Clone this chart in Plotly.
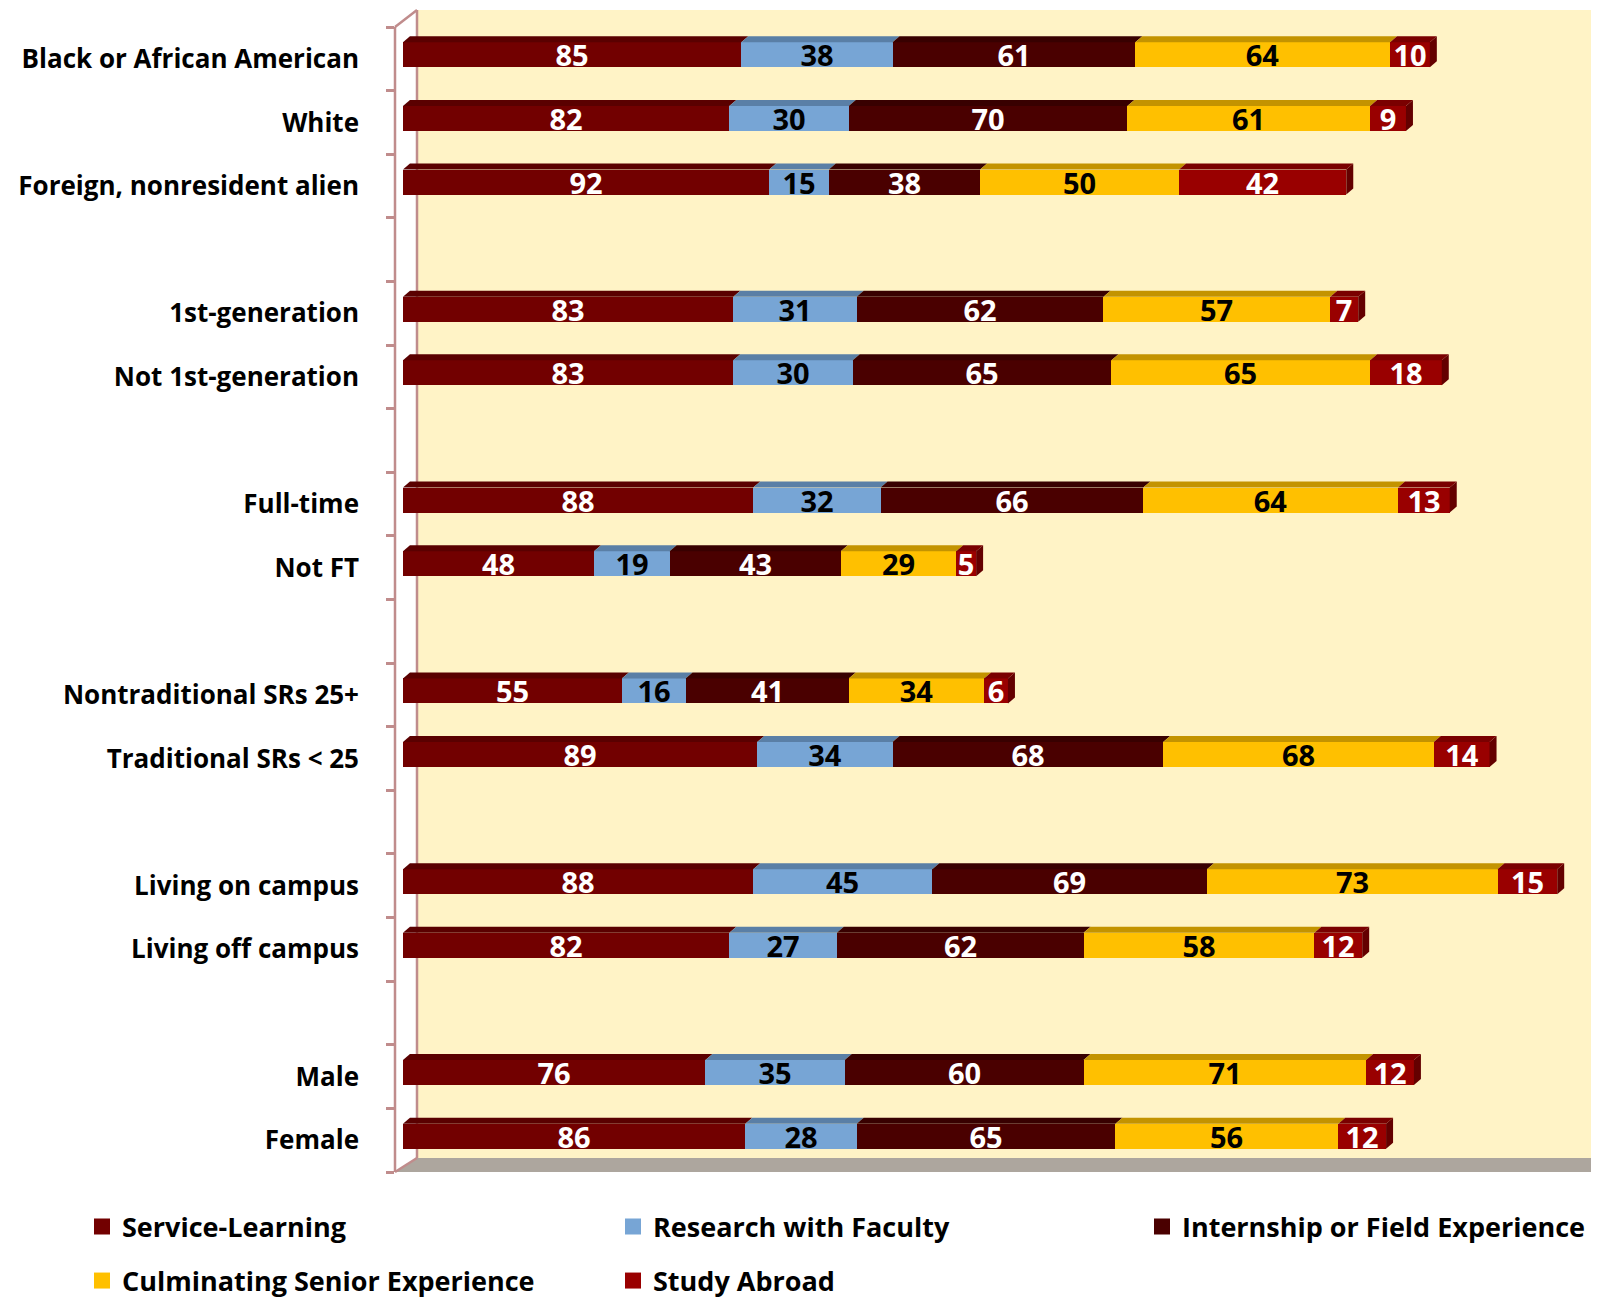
import plotly.graph_objects as go

# ---------------- data ----------------
categories = [
    "Black or African American", "White", "Foreign, nonresident alien", "",
    "1st-generation", "Not 1st-generation", "",
    "Full-time", "Not FT", "",
    "Nontraditional SRs 25+", "Traditional SRs < 25", "",
    "Living on campus", "Living off campus", "",
    "Male", "Female",
]
service_learning = [85, 82, 92, None, 83, 83, None, 88, 48, None, 55, 89, None, 88, 82, None, 76, 86]
research_faculty = [38, 30, 15, None, 31, 30, None, 32, 19, None, 16, 34, None, 45, 27, None, 35, 28]
internship_field = [61, 70, 38, None, 62, 65, None, 66, 43, None, 41, 68, None, 69, 62, None, 60, 65]
culminating_senior = [64, 61, 50, None, 57, 65, None, 64, 29, None, 34, 68, None, 73, 58, None, 71, 56]
study_abroad = [10, 9, 42, None, 7, 18, None, 13, 5, None, 6, 14, None, 15, 12, None, 12, 12]

series_names = ["Service-Learning", "Research with Faculty", "Internship or Field Experience",
                "Culminating Senior Experience", "Study Abroad"]
series_values = [service_learning, research_faculty, internship_field, culminating_senior, study_abroad]

# ---------------- style ----------------
front_colors = ["#720000", "#77A5D5", "#4A0000", "#FFC000", "#990000"]
top_colors = ["#5A0000", "#5A7FA6", "#380000", "#C39300", "#7A0000"]
side_color = "#640000"
text_colors = ["#FFFFFF", "#000000", "#FFFFFF", "#000000", "#FFFFFF"]
CREAM = "#FFF3C6"
WALL = "#C08C8C"
FLOOR = "#ADA69E"
FONT = "Open Sans"

# page has an 8px body margin: figure is placed at (8, 8) in the window
PAGE_OFF = 8
W, H = 1599 - PAGE_OFF, 1298 - PAGE_OFF
# plot area in window pixels
L_PX, R_PX, T_PX, B_PX = 395, 1599, 10, 1172
X_RANGE = [-2.0, 300.5]
n = len(categories)
slot_px = (B_PX - 27) / n
Y_TOP = -0.5 - (27 - T_PX) / slot_px
Y_RANGE = [n - 0.5, Y_TOP]

ppu_x = (R_PX - L_PX) / (X_RANGE[1] - X_RANGE[0])
ppu_y = slot_px
bar_w = 25 / ppu_y
y_shift = -4 / ppu_y
dx = 7 / ppu_x
dy = 6 / ppu_y

# legend placement (window pixels: legend-left x, row center y)
legend_pos = [(82, 1227), (613, 1227), (1142, 1227), (82, 1281), (613, 1281)]


def px_x(p):
    return (p - L_PX) / (R_PX - L_PX)


def px_y(p):
    return (B_PX - p) / (B_PX - T_PX)


ypos = [i + y_shift for i in range(n)]

fig = go.Figure()
for name, vals, fc, tc in zip(series_names, series_values, front_colors, text_colors):
    fig.add_trace(go.Bar(
        x=vals, y=ypos, orientation="h", name=name, width=bar_w,
        marker=dict(color=fc, line=dict(width=0)),
        text=vals, texttemplate="%{text}", textposition="inside",
        insidetextanchor="middle", textangle=0, constraintext="none",
        textfont=dict(family=FONT, size=29, color=tc, weight="bold"),
        hoverinfo="x+name", showlegend=False,
    ))

# legend entries (one legend per entry so they sit on Excel's grid)
legend_layouts = {}
for k, (name, fc) in enumerate(zip(series_names, front_colors)):
    lname = "legend" if k == 0 else f"legend{k + 1}"
    fig.add_trace(go.Scatter(
        x=[None], y=[None], mode="markers", name=name,
        marker=dict(symbol="square", size=16, color=fc, line=dict(width=0)),
        showlegend=True, legend=lname, hoverinfo="skip",
    ))
    lx, ly = legend_pos[k]
    legend_layouts[lname] = dict(
        orientation="h", x=px_x(lx), xanchor="left", y=px_y(ly), yanchor="middle",
        bgcolor="rgba(0,0,0,0)", itemsizing="trace",
        font=dict(family=FONT, size=27, color="black", weight="bold"),
    )

shapes = []
# back wall (cream)
shapes.append(dict(type="rect", xref="paper", yref="paper", x0=px_x(417), x1=1.0,
                   y0=px_y(1158), y1=1.0, fillcolor=CREAM, line=dict(width=0), layer="below"))
# floor
shapes.append(dict(type="path", xref="paper", yref="paper",
                   path=f"M {px_x(395)},{px_y(1172)} L {px_x(417)},{px_y(1158)} L {px_x(1599)},{px_y(1158)} "
                        f"L {px_x(1593)},{px_y(1172)} Z",
                   fillcolor=FLOOR, line=dict(width=0), layer="below"))
# wall lines
for (a, b, c, d) in [(395, 27, 395, 1172), (395, 27, 417, 10), (417, 10, 417, 1158), (395, 1172, 417, 1158)]:
    shapes.append(dict(type="line", xref="paper", yref="paper", x0=px_x(a), y0=px_y(b),
                       x1=px_x(c), y1=px_y(d), line=dict(color=WALL, width=2.5), layer="below"))

# 3D top and side faces computed from the data
for i in range(n):
    if service_learning[i] is None:
        continue
    yc = ypos[i]
    yt = yc - bar_w / 2
    yb = yc + bar_w / 2
    base = 0
    for vals, tcol in zip(series_values, top_colors):
        v = vals[i]
        x0, x1 = base, base + v
        shapes.append(dict(type="path", xref="x", yref="y",
                           path=f"M {x0},{yt} L {x1},{yt} L {x1 + dx},{yt - dy} L {x0 + dx},{yt - dy} Z",
                           fillcolor=tcol, line=dict(width=0)))
        base = x1
    shapes.append(dict(type="path", xref="x", yref="y",
                       path=f"M {base},{yt} L {base + dx},{yt - dy} L {base + dx},{yb - dy} L {base},{yb} Z",
                       fillcolor=side_color, line=dict(width=0)))

tickvals = [i for i, c in enumerate(categories) if c]
ticktext = [c for c in categories if c]

fig.update_layout(
    width=W, height=H,
    barmode="stack",
    bargap=0,
    paper_bgcolor="white",
    plot_bgcolor="rgba(0,0,0,0)",
    margin=dict(l=L_PX - PAGE_OFF, r=(1599 - PAGE_OFF) - (R_PX - PAGE_OFF), t=T_PX - PAGE_OFF,
                b=H - (B_PX - PAGE_OFF), pad=0, autoexpand=False),
    font=dict(family=FONT, size=27, color="black"),
    shapes=shapes,
    uniformtext=dict(minsize=22, mode="show"),
    xaxis=dict(range=X_RANGE, visible=False, showgrid=False, zeroline=False, fixedrange=True),
    yaxis=dict(range=Y_RANGE, tickmode="array", tickvals=tickvals, ticktext=ticktext,
               ticks="", showline=False, showgrid=False, zeroline=False,
               tickfont=dict(family=FONT, size=26, color="black", weight="bold"),
               ticklabelstandoff=35,
               minor=dict(tickmode="array", tickvals=[k - 0.5 for k in range(n + 1)],
                          ticks="outside", ticklen=8, tickwidth=2.5, tickcolor=WALL, showgrid=False)),
    showlegend=True,
    **legend_layouts,
)

fig.write_html("out.html")
